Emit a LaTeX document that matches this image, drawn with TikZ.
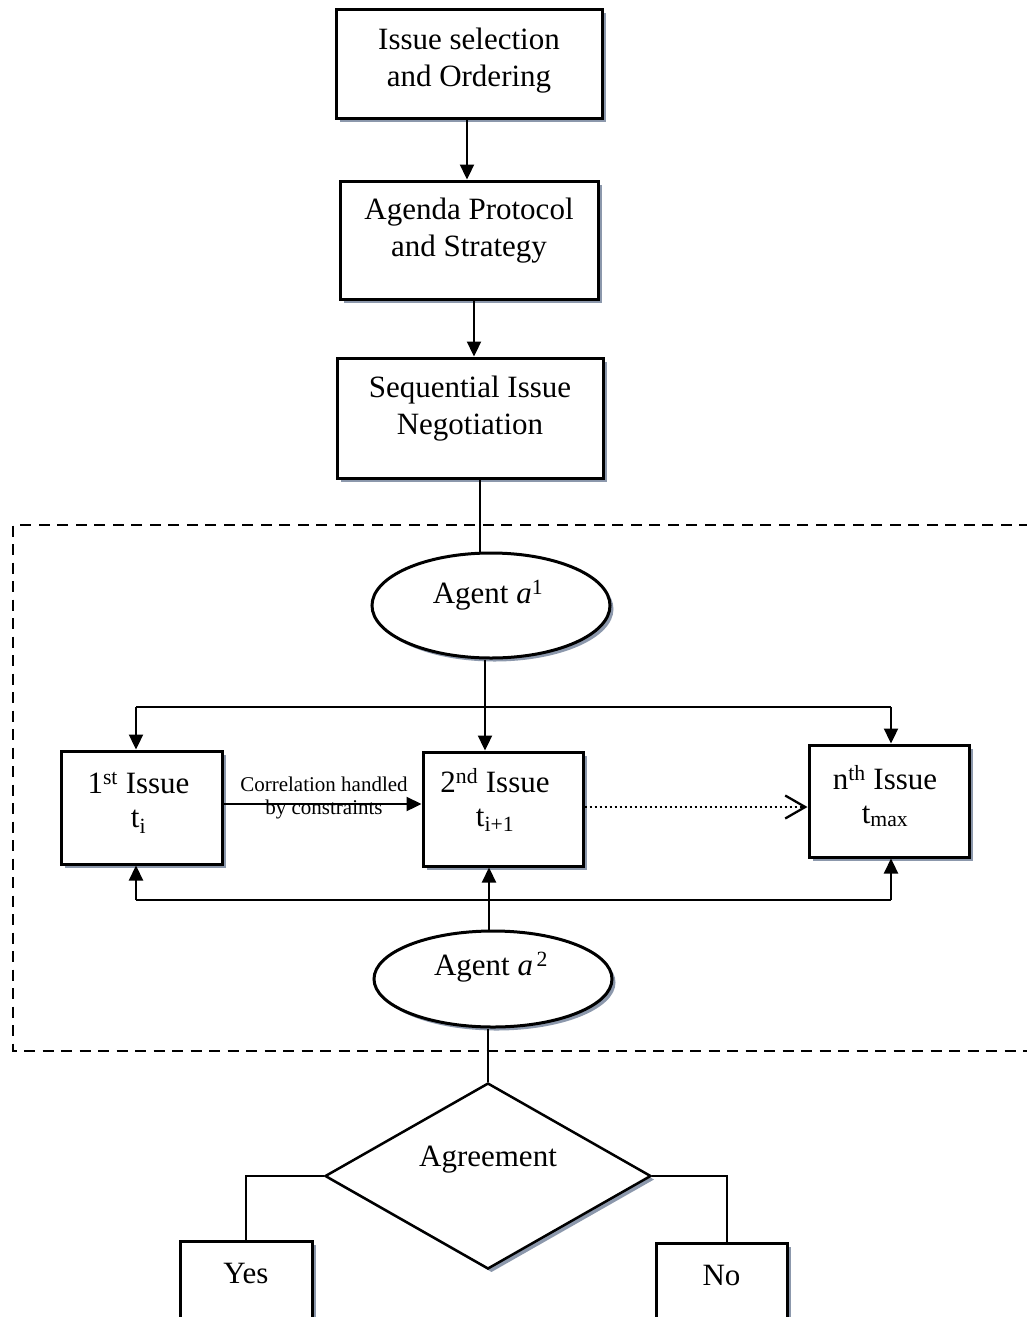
\documentclass[tikz,border=0pt]{standalone}
\usepackage{fontspec}
\setmainfont{Liberation Serif}
\usetikzlibrary{shapes.geometric,shadows,arrows.meta}
\definecolor{shc}{RGB}{140,152,172}
\begin{document}
\begin{tikzpicture}[x=1pt,y=-1pt,
  shd/.style={drop shadow={shadow xshift=3.5pt,shadow yshift=-3.5pt,fill=shc,opacity=1}},
  box/.style={draw,line width=3pt,fill=white,shd,inner sep=0pt},
  ell/.style={ellipse,draw,line width=3pt,fill=white,shd,inner sep=0pt},
  dia/.style={diamond,draw,line width=2.5pt,fill=white,shd,inner sep=0pt},
  lbl/.style={font=\fontsize{31}{37}\selectfont,align=center,inner sep=0pt},
  ilbl/.style={font=\fontsize{31}{34}\selectfont,align=center,inner sep=0pt},
  small/.style={font=\fontsize{21}{23}\selectfont,align=center,inner sep=0pt},
  arr/.style={line width=2.3pt,-{Triangle[length=15pt,width=14pt]}},
  thinl/.style={line width=1.6pt},
  dashbox/.style={line width=2.7pt,dash pattern=on 11pt off 7.5pt}]
\useasboundingbox (0,0) rectangle (1027,1317);
\clip (0,0) rectangle (1027,1317);

% top boxes
\node[box,minimum width=266pt,minimum height=109pt,
  label={[lbl,yshift=3pt]center:{Issue selection\\and Ordering}}] (b1) at (469,63.5) {};
\node[box,minimum width=258pt,minimum height=118pt,
  label={[lbl,yshift=9pt]center:{Agenda Protocol\\and Strategy}}] (b2) at (469,240) {};
\node[box,minimum width=266pt,minimum height=120pt,
  label={[lbl,yshift=9pt]center:{Sequential Issue\\Negotiation}}] (b3) at (470,418) {};

\draw[arr] ([xshift=-2pt]b1.south) -- ([xshift=-2pt]b2.north);
\draw[arr] ([xshift=5pt]b2.south) -- ([xshift=5pt]b2.south |- b3.north);

% dashed frame
\draw[dashbox] (1030,525) -- (13,525) -- (13,1051) -- (1030,1051);

% agent 1
\node[ell,minimum width=238pt,minimum height=105pt,
  label={[lbl,yshift=10pt,xshift=-3pt]center:{Agent \textit{a}\textsuperscript{1}}}] (e1) at (491,605.5) {};
\draw[thinl] ([xshift=10pt]b3.south) -- ([xshift=10pt]b3.south |- e1.north);

% issue boxes
\node[box,minimum width=161pt,minimum height=113pt,
  label={[ilbl,yshift=5pt,xshift=-3pt]center:{1\textsuperscript{st} Issue\\t\textsubscript{i}}}] (is1) at (141.5,807.5) {};
\node[box,minimum width=160pt,minimum height=114pt,
  label={[ilbl,yshift=9pt,xshift=-8pt]center:{2\textsuperscript{nd} Issue\\t\textsubscript{i+1}}}] (is2) at (503,809) {};
\node[box,minimum width=160pt,minimum height=112pt,
  label={[ilbl,yshift=5pt,xshift=-4pt]center:{n\textsuperscript{th} Issue\\t\textsubscript{max}}}] (isn) at (889,801) {};

% top distribution
\coordinate (tl) at (136,707);
\coordinate (tm) at (485,707);
\coordinate (tr) at (891,707);
\draw[line width=2.3pt] (tm |- e1.south) -- (tm);
\draw[line width=2.3pt] (tl) -- (tr);
\draw[arr] (tl) -- (tl |- is1.north);
\draw[arr] (tm) -- (tm |- is2.north);
\draw[arr] (tr) -- (tr |- isn.north);

% correlation arrow
\coordinate (ca) at (222,804);
\draw[arr] (is1.east |- ca) -- (is2.west |- ca);
\node[small] (corr) at (324,798) {Correlation handled\\by constraints};

% dotted arrow
\coordinate (da) at (583,807);
\draw[line width=2.3pt,dash pattern=on 2pt off 3pt] (is2.east |- da) -- ([xshift=-3pt]isn.west |- da);
\draw[line width=2.3pt,-{Straight Barb[length=20pt,width=23pt,line width=2.3pt]}] ([xshift=-6pt]isn.west |- da) -- (isn.west |- da);

% agent 2
\node[ell,minimum width=238pt,minimum height=96pt,
  label={[lbl,yshift=12pt,xshift=-2pt]center:{Agent \textit{a}\textsuperscript{\,2}}}] (e2) at (493,979) {};

% bottom collection
\coordinate (bl) at (136,900);
\coordinate (bm) at (489,900);
\coordinate (br) at (891,900);
\draw[line width=2.3pt] (bl) -- (br);
\draw[arr] (bl) -- (bl |- is1.south);
\draw[arr] (bm |- e2.north) -- (bm |- is2.south);
\draw[arr] (br) -- (br |- isn.south);

% decision
\node[dia,minimum width=326pt,minimum height=186pt,
  label={[lbl,yshift=16pt]center:{Agreement}}] (d) at (488,1176) {};
\draw[thinl] ([xshift=-5pt]e2.south) -- ([xshift=-5pt]e2.south |- d.north);

\node[box,minimum width=132pt,minimum height=118pt,
  label={[lbl,yshift=27pt]center:{Yes}}] (yes) at (246,1300) {};
\node[box,minimum width=131pt,minimum height=118pt,
  label={[lbl,yshift=27pt]center:{No}}] (no) at (721.5,1302) {};
\draw[thinl] (d.west) -| (yes.north);
\draw[thinl] (d.east) -| ([xshift=5.5pt]no.north);
\end{tikzpicture}
\end{document}
